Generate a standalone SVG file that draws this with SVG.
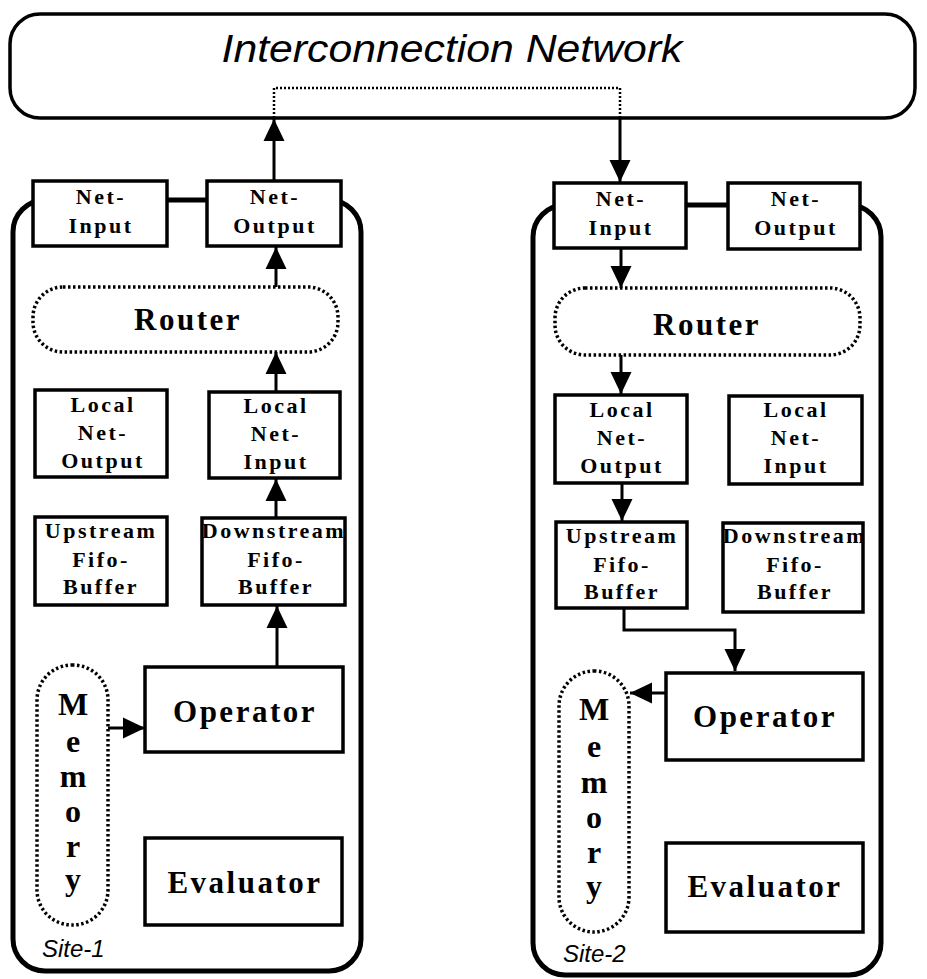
<svg xmlns="http://www.w3.org/2000/svg" width="927" height="979" viewBox="0 0 927 979">
<style>
.box{fill:#fff;stroke:#000;stroke-width:3.5}
.site{fill:none;stroke:#000;stroke-width:5}
.dot{fill:#fff;stroke:#000;stroke-width:3.5;stroke-dasharray:2.5 2.5}
.lbl{font-family:"Liberation Serif",serif;font-weight:bold;font-size:22px;letter-spacing:2.5px;text-anchor:middle;fill:#000}
.big{font-family:"Liberation Serif",serif;font-weight:bold;font-size:31px;letter-spacing:2.5px;text-anchor:middle;fill:#000}
.mem{font-family:"Liberation Serif",serif;font-weight:bold;font-size:32px;text-anchor:middle;fill:#000}
.it{font-family:"Liberation Sans",Arial,sans-serif;font-style:italic;fill:#000}
.ln{fill:none;stroke:#000;stroke-width:3}
</style>
<defs>
<marker id="ah" markerUnits="userSpaceOnUse" markerWidth="22" markerHeight="22" refX="22" refY="10.5" orient="auto" viewBox="0 0 22 21">
<path d="M0,0 L22,10.5 L0,21 z" fill="#000"/>
</marker>
</defs>
<rect width="927" height="979" fill="#fff"/>

<g id="network">
<rect x="10" y="14" width="905" height="104" rx="30" fill="#fff" stroke="#000" stroke-width="3.5"/>
<text class="it" x="452" y="62" font-size="38" text-anchor="middle" textLength="461" lengthAdjust="spacingAndGlyphs">Interconnection Network</text>
</g>

<g id="site-1">
<rect class="site" x="13" y="200" width="348" height="771" rx="32"/>
<text class="it" x="42" y="957" font-size="24">Site-1</text>
</g>
<g id="site-2">
<rect class="site" x="533" y="205" width="348" height="770" rx="32"/>
<text class="it" x="563" y="962" font-size="24">Site-2</text>
</g>

<g id="connectors">
<path d="M274,118 V88 H620 V118" fill="none" stroke="#000" stroke-width="2.5" stroke-dasharray="2 2"/>
<line class="ln" x1="167" y1="200" x2="207" y2="200" stroke-width="6"/>
<line class="ln" x1="686" y1="205" x2="728" y2="205" stroke-width="6"/>
<line class="ln" x1="274" y1="180" x2="274" y2="119" marker-end="url(#ah)"/>
<line class="ln" x1="620" y1="119" x2="620" y2="182" marker-end="url(#ah)"/>
<line class="ln" x1="276" y1="287" x2="276" y2="247" marker-end="url(#ah)"/>
<line class="ln" x1="276" y1="392" x2="276" y2="352" marker-end="url(#ah)"/>
<line class="ln" x1="276" y1="518" x2="276" y2="479" marker-end="url(#ah)"/>
<line class="ln" x1="277" y1="667" x2="277" y2="606" marker-end="url(#ah)"/>
<line class="ln" x1="108" y1="728" x2="145" y2="728" marker-end="url(#ah)"/>
<line class="ln" x1="621" y1="248" x2="621" y2="288" marker-end="url(#ah)"/>
<line class="ln" x1="621" y1="355" x2="621" y2="394" marker-end="url(#ah)"/>
<line class="ln" x1="622" y1="483" x2="622" y2="521" marker-end="url(#ah)"/>
<path class="ln" d="M624,607 V630 H735 V671" marker-end="url(#ah)"/>
<line class="ln" x1="666" y1="693" x2="630" y2="693" marker-end="url(#ah)"/>
</g>

<g id="s1-net-input">
<rect class="box" x="33" y="181" width="134" height="65"/>
<text class="lbl" x="101" y="204">Net-</text>
<text class="lbl" x="101" y="233">Input</text>
</g>
<g id="s1-net-output">
<rect class="box" x="207" y="181" width="134" height="65"/>
<text class="lbl" x="275" y="204">Net-</text>
<text class="lbl" x="275" y="233">Output</text>
</g>
<g id="s1-router">
<rect class="dot" x="33" y="287" width="305" height="65" rx="30"/>
<text class="big" x="188" y="330">Router</text>
</g>
<g id="s1-local-net-output">
<rect class="box" x="35" y="390" width="132" height="87"/>
<text class="lbl" x="103" y="412">Local</text>
<text class="lbl" x="103" y="440">Net-</text>
<text class="lbl" x="103" y="468">Output</text>
</g>
<g id="s1-local-net-input">
<rect class="box" x="209" y="392" width="131" height="86"/>
<text class="lbl" x="276" y="413">Local</text>
<text class="lbl" x="276" y="441">Net-</text>
<text class="lbl" x="276" y="469">Input</text>
</g>
<g id="s1-upstream">
<rect class="box" x="35" y="517" width="132" height="88"/>
<text class="lbl" x="101" y="538">Upstream</text>
<text class="lbl" x="101" y="567">Fifo-</text>
<text class="lbl" x="101" y="594">Buffer</text>
</g>
<g id="s1-downstream">
<rect class="box" x="202" y="518" width="143" height="87"/>
<text class="lbl" x="274" y="538">Downstream</text>
<text class="lbl" x="276" y="567">Fifo-</text>
<text class="lbl" x="276" y="594">Buffer</text>
</g>
<g id="s1-memory">
<rect class="dot" x="37" y="665" width="71" height="260" rx="35"/>
<text class="mem" x="73" y="715">M</text>
<text class="mem" x="73" y="752">e</text>
<text class="mem" x="73" y="787">m</text>
<text class="mem" x="73" y="822">o</text>
<text class="mem" x="73" y="857">r</text>
<text class="mem" x="73" y="890">y</text>
</g>
<g id="s1-operator">
<rect class="box" x="145" y="667" width="198" height="85"/>
<text class="big" x="245" y="722">Operator</text>
</g>
<g id="s1-evaluator">
<rect class="box" x="145" y="838" width="197" height="87"/>
<text class="big" x="245" y="893">Evaluator</text>
</g>

<g id="s2-net-input">
<rect class="box" x="554" y="183" width="132" height="65"/>
<text class="lbl" x="621" y="206">Net-</text>
<text class="lbl" x="621" y="235">Input</text>
</g>
<g id="s2-net-output">
<rect class="box" x="728" y="183" width="132" height="66"/>
<text class="lbl" x="796" y="206">Net-</text>
<text class="lbl" x="796" y="235">Output</text>
</g>
<g id="s2-router">
<rect class="dot" x="555" y="288" width="305" height="67" rx="30"/>
<text class="big" x="707" y="335">Router</text>
</g>
<g id="s2-local-net-output">
<rect class="box" x="555" y="395" width="132" height="88"/>
<text class="lbl" x="622" y="417">Local</text>
<text class="lbl" x="622" y="445">Net-</text>
<text class="lbl" x="622" y="473">Output</text>
</g>
<g id="s2-local-net-input">
<rect class="box" x="729" y="396" width="133" height="88"/>
<text class="lbl" x="796" y="417">Local</text>
<text class="lbl" x="796" y="445">Net-</text>
<text class="lbl" x="796" y="473">Input</text>
</g>
<g id="s2-upstream">
<rect class="box" x="556" y="522" width="131" height="86"/>
<text class="lbl" x="622" y="543">Upstream</text>
<text class="lbl" x="622" y="572">Fifo-</text>
<text class="lbl" x="622" y="599">Buffer</text>
</g>
<g id="s2-downstream">
<rect class="box" x="723" y="523" width="140" height="89"/>
<text class="lbl" x="795" y="543">Downstream</text>
<text class="lbl" x="795" y="572">Fifo-</text>
<text class="lbl" x="795" y="599">Buffer</text>
</g>
<g id="s2-memory">
<rect class="dot" x="559" y="671" width="70" height="261" rx="35"/>
<text class="mem" x="594" y="720">M</text>
<text class="mem" x="594" y="757">e</text>
<text class="mem" x="594" y="793">m</text>
<text class="mem" x="594" y="828">o</text>
<text class="mem" x="594" y="863">r</text>
<text class="mem" x="594" y="897">y</text>
</g>
<g id="s2-operator">
<rect class="box" x="666" y="673" width="197" height="87"/>
<text class="big" x="765" y="727">Operator</text>
</g>
<g id="s2-evaluator">
<rect class="box" x="666" y="843" width="197" height="89"/>
<text class="big" x="765" y="897">Evaluator</text>
</g>
</svg>
